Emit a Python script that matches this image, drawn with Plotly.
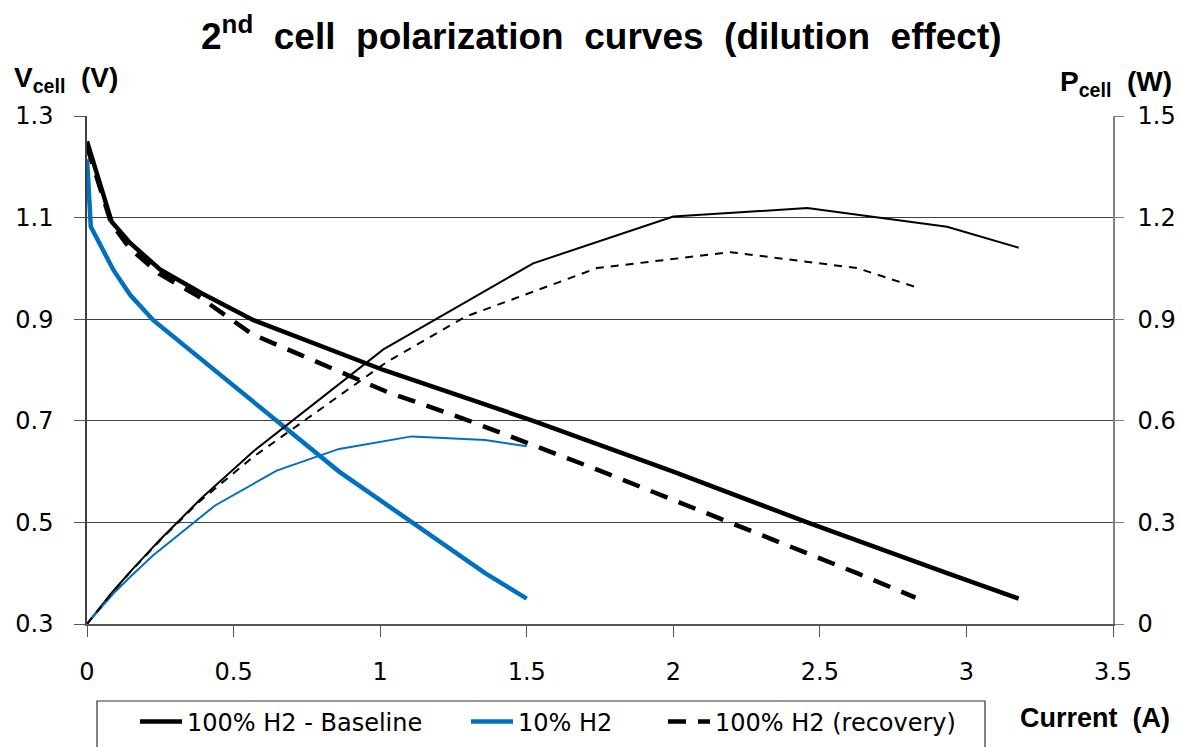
import plotly.graph_objects as go

# ---- data -------------------------------------------------------------
# 100% H2 - baseline
base_i = [0, 0.084, 0.147, 0.249, 0.391, 0.568, 1.011, 1.522, 2.0, 2.457, 2.934, 3.178]
base_v = [1.25, 1.092, 1.05, 0.998, 0.951, 0.898, 0.80, 0.70, 0.60, 0.50, 0.40, 0.35]
base_p = [0, 0.092, 0.154, 0.249, 0.372, 0.51, 0.811, 1.065, 1.203, 1.228, 1.173, 1.111]

# 10% H2
dil_i = [0, 0.013, 0.09, 0.147, 0.226, 0.437, 0.647, 0.86, 1.108, 1.358, 1.5]
dil_v = [1.215, 1.082, 0.997, 0.948, 0.898, 0.80, 0.70, 0.60, 0.50, 0.40, 0.35]
dil_p = [0, 0.014, 0.09, 0.139, 0.203, 0.35, 0.453, 0.517, 0.554, 0.543, 0.525]

# 100% H2 (recovery)
rec_i = [0, 0.082, 0.145, 0.245, 0.38, 0.565, 1.023, 1.29, 1.74, 2.195, 2.627, 2.826]
rec_v = [1.24, 1.09, 1.04, 0.99, 0.945, 0.87, 0.757, 0.703, 0.604, 0.50, 0.40, 0.352]
rec_p = [0, 0.089, 0.151, 0.243, 0.359, 0.492, 0.774, 0.907, 1.051, 1.098, 1.051, 0.995]

x_ticks = [0, 0.5, 1, 1.5, 2, 2.5, 3, 3.5]
v_ticks = [0.3, 0.5, 0.7, 0.9, 1.1, 1.3]
p_ticks = [0, 0.3, 0.6, 0.9, 1.2, 1.5]

# ---- layout geometry (pixels) -----------------------------------------
W, H = 1181, 747
L, R, T, B = 87, 68, 116, 123
PW, PH = W - L - R, H - T - B


def px(x):
    return (x - L) / PW


def py(y):
    return (H - B - y) / PH


FONT = "Liberation Sans, Arial, Helvetica, sans-serif"
WIDE = "DejaVu Sans, Verdana, sans-serif"
BLUE = "#0070C0"
NB = "\u00a0"

fig = go.Figure()

# power curves (right axis)
fig.add_trace(go.Scatter(x=base_i, y=base_p, yaxis="y2", mode="lines",
                         line=dict(color="black", width=2), showlegend=False))
fig.add_trace(go.Scatter(x=dil_i, y=dil_p, yaxis="y2", mode="lines",
                         line=dict(color=BLUE, width=2), showlegend=False))
fig.add_trace(go.Scatter(x=rec_i, y=rec_p, yaxis="y2", mode="lines",
                         line=dict(color="black", width=2, dash="8px,7px"),
                         showlegend=False))

# voltage curves (left axis)
fig.add_trace(go.Scatter(x=base_i, y=base_v, mode="lines", name="100% H2 - Baseline",
                         line=dict(color="black", width=4.5), legend="legend"))
fig.add_trace(go.Scatter(x=dil_i, y=dil_v, mode="lines", name="10% H2",
                         line=dict(color=BLUE, width=4.5), legend="legend2"))
fig.add_trace(go.Scatter(x=rec_i, y=rec_v, mode="lines", name="100% H2 (recovery)",
                         line=dict(color="black", width=4.5, dash="18px,12px"),
                         legend="legend3"))

leg_common = dict(orientation="h", yanchor="middle", xanchor="left",
                  bgcolor="rgba(0,0,0,0)", borderwidth=0, itemwidth=42,
                  font=dict(family=WIDE, size=24, color="black"))

fig.update_layout(
    width=W, height=H,
    margin=dict(l=L, r=R, t=T, b=B, autoexpand=False),
    paper_bgcolor="white", plot_bgcolor="white",
    font=dict(family=FONT, color="black"),
    xaxis=dict(range=[0, 3.5], tickvals=x_ticks, ticks="outside", ticklen=11,
               tickcolor="#555555", showgrid=False, zeroline=False,
               showline=True, linecolor="#555555", linewidth=1.5,
               tickfont=dict(family=WIDE, size=24), ticklabelstandoff=14),
    yaxis=dict(range=[0.3, 1.3], tickvals=v_ticks, tickformat=".1f",
               ticks="outside", ticklen=11, tickcolor="#555555",
               showgrid=True, gridcolor="#404040", gridwidth=1.2, zeroline=False,
               showline=True, linecolor="#404040", linewidth=1.5,
               tickfont=dict(family=WIDE, size=24), ticklabelstandoff=16),
    yaxis2=dict(range=[0, 1.5], tickvals=p_ticks, overlaying="y", side="right",
                ticks="outside", ticklen=9, tickcolor="#808080",
                showgrid=False, zeroline=False,
                showline=True, linecolor="#808080", linewidth=1.5,
                tickfont=dict(family=WIDE, size=24), ticklabelstandoff=9),
    legend=dict(x=px(135), y=py(722), **leg_common),
    legend2=dict(x=px(466), y=py(722), **leg_common),
    legend3=dict(x=px(663), y=py(722), **leg_common),
    shapes=[dict(type="rect", xref="paper", yref="paper",
                 x0=px(97), x1=px(985), y0=py(770), y1=py(701),
                 line=dict(color="#333333", width=1.2))],
    annotations=[
        dict(text=f"<b>2<sup>nd</sup>{NB}{NB}cell{NB}{NB}polarization{NB}{NB}curves"
                  f"{NB}{NB}(dilution{NB}{NB}effect)</b>",
             xref="paper", yref="paper", x=px(601), y=py(33),
             xanchor="center", yanchor="middle", showarrow=False,
             font=dict(size=37, color="black")),
        dict(text=f"<b>V<sub>cell</sub>{NB}{NB}(V)</b>",
             xref="paper", yref="paper", x=px(12), y=py(80),
             xanchor="left", yanchor="middle", showarrow=False,
             font=dict(size=28, color="black")),
        dict(text=f"<b>P<sub>cell</sub>{NB}{NB}(W)</b>",
             xref="paper", yref="paper", x=px(1174), y=py(84),
             xanchor="right", yanchor="middle", showarrow=False,
             font=dict(size=28, color="black")),
        dict(text=f"<b>Current{NB}{NB}(A)</b>",
             xref="paper", yref="paper", x=px(1172), y=py(718),
             xanchor="right", yanchor="middle", showarrow=False,
             font=dict(size=27, color="black")),
    ],
)

fig.write_html("out.html")
